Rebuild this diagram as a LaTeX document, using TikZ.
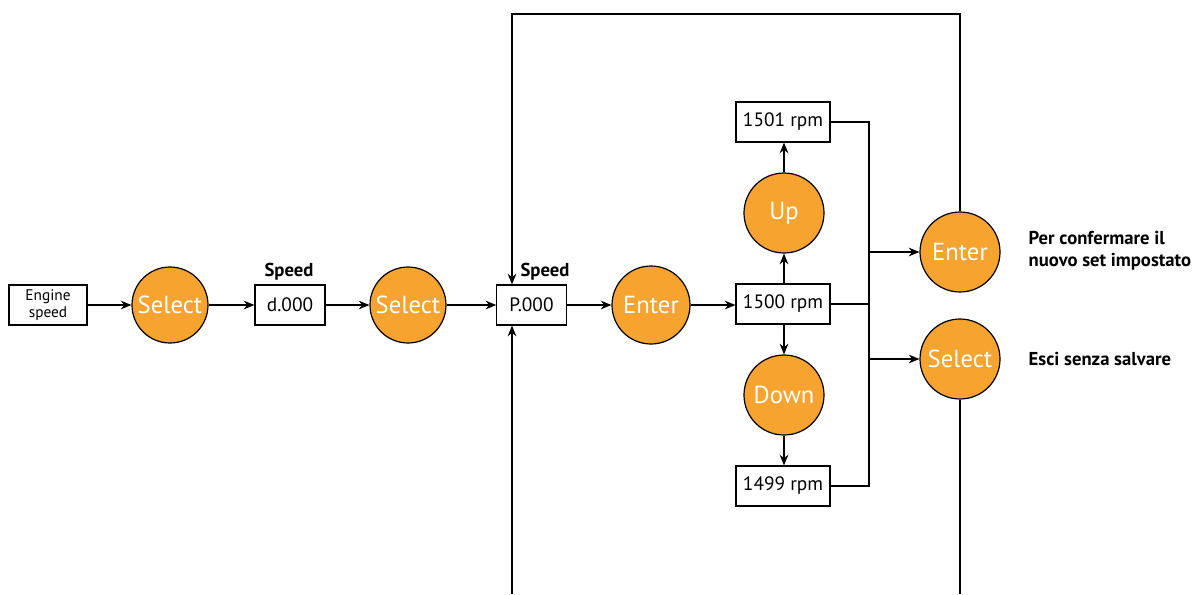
\documentclass[tikz,border=0pt]{standalone}
\usepackage{fontspec}
\setmainfont{PT Sans}
\usetikzlibrary{arrows.meta}
\definecolor{btnorange}{HTML}{F7A330}
\tikzset{
  box/.style={draw, line width=0.9pt, inner sep=0pt, minimum height=30pt, font=\fontsize{14.5}{16}\selectfont},
  btn/.style={circle, draw, line width=0.9pt, fill=btnorange, text=white, inner sep=0pt, font=\fontsize{18.5}{20}\selectfont},
  lbl/.style={font=\fontsize{14}{16.5}\selectfont\bfseries},
  conn/.style={line width=0.9pt},
  arr/.style={conn, -{Stealth[length=8pt,width=6.5pt]}}
}
\begin{document}
\begin{tikzpicture}[x=0.75pt,y=-0.75pt]
\useasboundingbox (0,0) rectangle (1199,594);
% row
\node[box, minimum width=58.5pt, align=center, font=\fontsize{11.5}{13}\selectfont] (eng) at (48,305) {Engine\\speed};
\node[btn, minimum size=57pt] (sel1) at (170,305) {Select};
\node[box, minimum width=52.5pt] (d) at (290,305) {d.000};
\node[btn, minimum size=57pt] (sel2) at (408,305) {Select};
\node[box, minimum width=52pt] (p) at (531.5,305) {P.000};
\node[btn, minimum size=58.5pt] (ent1) at (651,305) {Enter};
\node[box, minimum width=70.5pt] (r1500) at (783,304) {1500 rpm};
\node[btn, minimum size=60pt] (up) at (784,213) {Up};
\node[box, minimum width=70.5pt] (r1501) at (783,122) {1501 rpm};
\node[btn, minimum size=60pt] (down) at (784,395) {Down};
\node[box, minimum width=70.5pt] (r1499) at (783,486) {1499 rpm};
\node[btn, minimum size=60pt] (ent2) at (960,252) {Enter};
\node[btn, minimum size=60pt] (sel3) at (960,359) {Select};
% labels
\node[lbl] (sp1) at (289,272) {Speed};
\node[lbl] (sp2) at (545,272) {Speed};
\node[lbl, anchor=west, align=left] (t1) at (1024,251) {Per confermare il\\nuovo set impostato};
\node[lbl, anchor=west] (t2) at (1024,359) {Esci senza salvare};
% coordinates
\coordinate (tl) at (512,14);
\coordinate (bl) at (512,594);
\coordinate (br) at (960,594);
\coordinate (busx) at (869,0);
% connectors
\draw[arr] (eng) -- (sel1);
\draw[arr] (sel1) -- (d);
\draw[arr] (d) -- (sel2);
\draw[arr] (sel2) -- (p);
\draw[arr] (p) -- (ent1);
\draw[arr] (ent1) -- (ent1 -| r1500.west);
\draw[arr] (r1500.north -| up) -- (up);
\draw[arr] (up) -- (r1501.south -| up);
\draw[arr] (r1500.south -| down) -- (down);
\draw[arr] (down) -- (r1499.north -| down);
\draw[conn] (r1501.east) -| (busx |- r1499.east) -- (r1499.east);
\draw[conn] (r1500.east) -- (busx |- r1500.east);
\draw[arr] (busx |- ent2) -- (ent2);
\draw[arr] (busx |- sel3) -- (sel3);
\draw[arr] (ent2.north) |- (tl) -- (tl |- p.north);
\draw[arr] (bl) -- (bl |- p.south);
\draw[conn] (sel3.south) -- (br);
\end{tikzpicture}
\end{document}
